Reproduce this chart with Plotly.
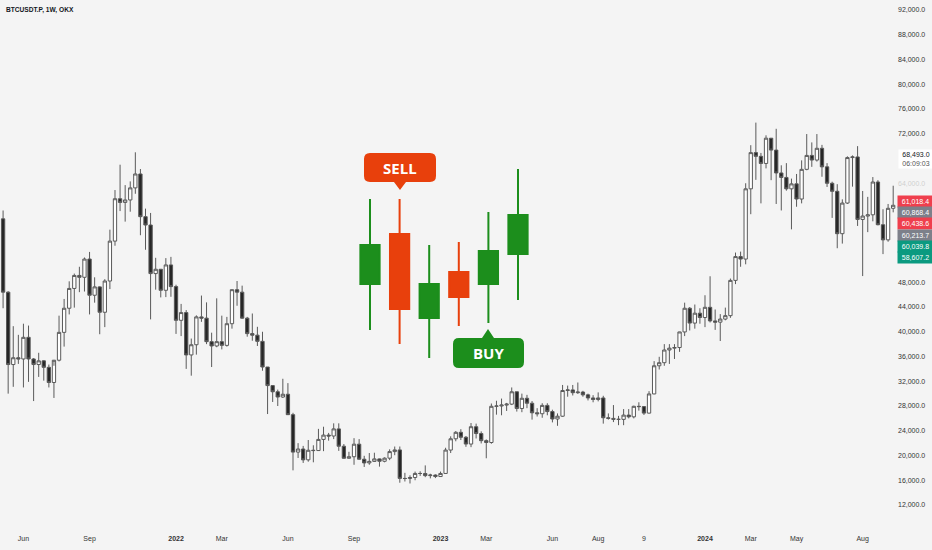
import pandas as pd
import plotly.graph_objects as go

# ---------------- data (weekly BTCUSDT.P) ----------------
first_week = "2021-05-10"
opens = [58250, 46400, 34700, 35800, 35600, 39100, 35600, 34700, 35300, 34250,
         31800, 35400, 39900, 43800, 47000, 49100, 48800, 51750, 45900, 47250,
         43150, 48200, 54650, 61500, 60900, 61300, 63250, 65500, 58600, 57250,
         49400, 50100, 46700, 50800,
         47300, 41850, 43100, 36250, 37900, 42400, 42200, 38400, 37700, 38400,
         37800, 41300, 46800, 46400, 42200, 39700, 39450, 38450, 34300, 31300,
         30300, 29450, 29900, 26600, 20550, 21050, 19300, 20850, 20800, 22600,
         23300, 23150, 24300, 21500, 19550, 19800, 21830, 19400, 18800, 19050,
         19450, 19070, 19570, 20630, 20900, 16300, 16280, 16450, 17100, 17090,
         16750, 16840,
         16600, 17100, 20880, 22700, 23750, 22950, 21850, 24650, 23550, 22400,
         22100, 27950, 28000, 28150, 28300, 30300, 27600, 29250, 28450, 26900,
         26750, 28100, 27100, 25900, 26350, 30500, 30600, 30150, 30250, 29800,
         29300, 29050, 29300, 26100, 26000, 25850, 25840, 26530, 26250, 27950,
         27900, 26850, 29950, 34500, 35000, 37050, 37350, 37450, 39970, 43800,
         41400, 43000,
         42300, 43950, 41750, 41550, 42050, 42600, 48300, 52150, 51750, 63100,
         68950, 68350, 67200, 71280, 69360, 65660, 64940, 63100, 63900, 61450,
         66250, 68500, 67750, 69650, 66650, 64000, 62700, 55850, 60800, 68150,
         68250, 58150, 58700, 58900, 64200, 57300, 54850, 59950]
highs = [59600, 46550, 40900, 39500, 41300, 41000, 35750, 36600, 35400, 34700,
         34500, 42600, 45300, 48150, 49400, 50500, 52000, 52900, 48800, 47350,
         48500, 56500, 62900, 67000, 63700, 64300, 69000, 66300, 59900, 59200,
         51950, 50100, 51900, 52100,
         47600, 44500, 43500, 38900, 42650, 45850, 44750, 39850, 45400, 42600,
         42400, 46800, 48200, 47450, 42400, 42950, 40800, 40000, 34300, 31300,
         30650, 32400, 31700, 26900, 22000, 21550, 22500, 21650, 24300, 24650,
         23650, 25200, 25200, 21850, 20600, 22800, 22650, 19950, 20400, 20450,
         19500, 19700, 21000, 21450, 21450, 17200, 16800, 17400, 17450, 18400,
         17050, 16950,
         17400, 21250, 23100, 23950, 24250, 23150, 25250, 25150, 23900, 22600,
         28400, 28850, 29200, 28500, 31000, 30300, 30000, 29800, 28800, 27650,
         28450, 28450, 27400, 26800, 31400, 31300, 31400, 31800, 30450, 30000,
         29750, 30200, 29650, 26800, 28150, 26400, 27500, 27500, 28050, 28600,
         28000, 30400, 35250, 35950, 38000, 38000, 38000, 40000, 44700, 44000,
         44400, 43800,
         45900, 48970, 43600, 42850, 43900, 48600, 52800, 52950, 64000, 70150,
         73800, 68900, 71750, 71300, 72800, 66900, 67250, 64750, 65500, 67700,
         71950, 70600, 71950, 70200, 67250, 64250, 63850, 61400, 68350, 68500,
         70000, 62750, 61800, 65000, 64500, 59800, 60650, 63600]
lows = [43800, 30000, 31100, 34800, 31000, 31900, 28800, 32700, 32100, 31000,
        29300, 35200, 37600, 42800, 43900, 46400, 46500, 42800, 44700, 39600,
        40750, 46900, 53900, 59500, 57800, 59400, 62300, 55600, 53250, 42000,
        46800, 45550, 45600, 45650,
        39650, 39300, 34000, 32900, 36300, 41600, 38000, 34300, 37500, 37150,
        37600, 40500, 44200, 42100, 39200, 38550, 37700, 33700, 26700, 28650,
        28000, 29300, 26550, 17600, 19600, 18800, 19000, 18900, 20750, 20700,
        22400, 22650, 20750, 19500, 19500, 18500, 19300, 18150, 18500, 18950,
        18200, 18900, 19250, 20050, 15600, 15800, 15480, 16000, 16700, 16500,
        16300, 16350,
        16550, 17050, 20400, 22300, 22500, 21400, 21350, 22750, 21950, 19550,
        21900, 26600, 26500, 27200, 28150, 27100, 27000, 27650, 25800, 26300,
        26100, 26500, 25350, 24800, 26250, 29500, 29700, 29950, 29500, 28900,
        28600, 28750, 25150, 25800, 25400, 24900, 24900, 26000, 26000, 27250,
        26550, 26800, 29900, 33900, 34500, 34800, 35600, 36750, 39300, 40200,
        40500, 41300,
        40750, 41500, 40300, 38500, 41850, 42250, 47700, 50500, 50900, 59000,
        64550, 60750, 66400, 64500, 60650, 59600, 62800, 56550, 60200, 60750,
        66100, 66650, 67500, 65050, 63400, 58400, 53500, 54250, 60650, 63450,
        57100, 49000, 56100, 57850, 57200, 52550, 54550, 59300]
closes = [46400, 34700, 35800, 35600, 39100, 35600, 34700, 35300, 34250, 31800,
          35400, 39900, 43800, 47000, 49100, 48800, 51750, 45900, 47250, 43150,
          48200, 54650, 61500, 60900, 61300, 63250, 65500, 58600, 57250, 49400,
          50100, 46700, 50800, 47300,
          41850, 43100, 36250, 37900, 42400, 42200, 38400, 37700, 38400, 37800,
          41300, 46800, 46400, 42200, 39700, 39450, 38450, 34300, 31300, 30300,
          29450, 29900, 26600, 20550, 21050, 19300, 20850, 20800, 22600, 23300,
          23150, 24300, 21500, 19550, 19800, 21830, 19400, 18800, 19050, 19450,
          19070, 19570, 20630, 20900, 16300, 16280, 16450, 17100, 17090, 16750,
          16840, 16600,
          17100, 20880, 22700, 23750, 22950, 21850, 24650, 23550, 22400, 22100,
          27950, 28000, 28150, 28300, 30300, 27600, 29250, 28450, 26900, 26750,
          28100, 27100, 25900, 26350, 30500, 30600, 30150, 30250, 29800, 29300,
          29050, 29300, 26100, 26000, 25850, 25840, 26530, 26250, 27950, 27900,
          26850, 29950, 34500, 35000, 37050, 37350, 37450, 39970, 43800, 41400,
          43000, 42300,
          43950, 41750, 41550, 42050, 42600, 48300, 52150, 51750, 63100, 68950,
          68350, 67200, 71280, 69360, 65660, 64940, 63100, 63900, 61450, 66250,
          68500, 67750, 69650, 66650, 64000, 62700, 55850, 60800, 68150, 68250,
          58150, 58700, 58900, 64200, 57300, 54850, 59950, 60440]

# price scale ticks (labels hidden behind the price tags are left out)
y_ticks = [12000, 16000, 20000, 24000, 28000, 32000, 36000, 40000, 44000, 48000,
           64000, 72000, 76000, 80000, 84000, 88000, 92000]
y_tick_labels = [f"{v:,.1f}" for v in y_ticks]

# time scale ticks
x_tick_dates = ["2021-06-07", "2021-09-06", "2022-01-03", "2022-03-07", "2022-06-06",
                "2022-09-05", "2023-01-02", "2023-03-06", "2023-06-05", "2023-08-07",
                "2023-10-09", "2024-01-01", "2024-03-04", "2024-05-06", "2024-08-05"]
x_tick_labels = ["Jun", "Sep", "<b>2022</b>", "Mar", "Jun", "Sep", "<b>2023</b>", "Mar",
                 "Jun", "Aug", "9", "<b>2024</b>", "Mar", "May", "Aug"]

# right-hand price labels
side_values = ["61,018.4", "60,868.4", "60,438.6", "60,213.7", "60,039.8", "58,607.2"]
side_colors = ["#ef3f4d", "#7d808a", "#ef3f4d", "#7d808a", "#0b9a80", "#0b9a80"]
last_price = "68,493.0"
countdown = "06:09:03"

# illustrative SELL / BUY candles (relative units)
sig_x = [1, 2, 3, 4, 5, 6]
sig_open = [249, 299, 215, 261, 249, 279]
sig_high = [334, 334, 288, 291, 321, 364]
sig_low = [203, 189, 175, 207, 210, 233]
sig_close = [288, 224, 249, 236, 282, 318]

# ---------------- layout geometry ----------------
W, H = 932, 550
ML, MR, MT, MB = 0, 35, 0, 17
PW, PH = W - ML - MR, H - MT - MB


def pxp(x):
    return (x - ML) / PW


def pyp(y):
    return (H - MB - y) / PH


PX_PER_DAY = 0.7266
anchor_day = pd.Timestamp("2022-01-03")
x0 = (anchor_day - pd.Timedelta(days=176 / PX_PER_DAY)).floor("h")
x1 = (x0 + pd.Timedelta(days=PW / PX_PER_DAY)).floor("h")


def price_at(ypx):
    return 92000 + (10 - ypx) * (80000 / 495)


dates = pd.date_range(first_week, periods=len(opens), freq="7D")

BG = "#f4f4f4"
GREEN = "#1c8e1c"
RED = "#e8400c"
FONT = "Liberation Sans"

fig = go.Figure()
fig.add_trace(go.Candlestick(
    x=dates, open=opens, high=highs, low=lows, close=closes,
    increasing=dict(fillcolor="#ffffff", line=dict(color="#5a5a5a", width=1)),
    decreasing=dict(fillcolor="#262626", line=dict(color="#5a5a5a", width=1)),
    whiskerwidth=0, showlegend=False))

fig.add_trace(go.Candlestick(
    x=sig_x, open=sig_open, high=sig_high, low=sig_low, close=sig_close,
    xaxis="x2", yaxis="y2",
    increasing=dict(fillcolor=GREEN, line=dict(color=GREEN, width=2)),
    decreasing=dict(fillcolor=RED, line=dict(color=RED, width=2)),
    whiskerwidth=0, showlegend=False))


# ---------- bubbles ----------
def bubble_path(xa, ya, xb, yb, r, tip_x, tip_len, tip_half, down):
    def P(x, y):
        return f"{pxp(x):.5f},{pyp(y):.5f}"
    s = f"M {P(xa + r, ya)} "
    if not down:
        s += f"L {P(tip_x - tip_half, ya)} L {P(tip_x, ya - tip_len)} L {P(tip_x + tip_half, ya)} "
    s += f"L {P(xb - r, ya)} Q {P(xb, ya)} {P(xb, ya + r)} "
    s += f"L {P(xb, yb - r)} Q {P(xb, yb)} {P(xb - r, yb)} "
    if down:
        s += f"L {P(tip_x + tip_half, yb)} L {P(tip_x, yb + tip_len)} L {P(tip_x - tip_half, yb)} "
    s += f"L {P(xa + r, yb)} Q {P(xa, yb)} {P(xa, yb - r)} "
    s += f"L {P(xa, ya + r)} Q {P(xa, ya)} {P(xa + r, ya)} Z"
    return s


shapes = [
    dict(type="path", xref="paper", yref="paper",
         path=bubble_path(364, 153, 436, 182, 6, 400, 8, 6, True),
         fillcolor=RED, line=dict(width=0)),
    dict(type="path", xref="paper", yref="paper",
         path=bubble_path(453, 338, 524, 368, 6, 488, 9, 6, False),
         fillcolor=GREEN, line=dict(width=0)),
    # veil over the faded 64,000 tick
    dict(type="rect", xref="paper", yref="paper", x0=pxp(897), x1=pxp(932),
         y0=pyp(188), y1=pyp(178), fillcolor="rgba(244,244,244,0.8)",
         line=dict(width=0)),
]

annotations = [
    dict(text="<b>BTCUSDT.P, 1W, OKX</b>", xref="paper", yref="paper",
         x=pxp(4), y=pyp(10), xanchor="left", yanchor="middle", showarrow=False,
         font=dict(family=FONT, size=6.6, color="#131722")),
    dict(text="<b>SELL</b>", xref="paper", yref="paper", x=pxp(400), y=pyp(167.5),
         xanchor="center", yanchor="middle", showarrow=False,
         font=dict(family="Open Sans", size=15, color="#ffffff")),
    dict(text="<b>BUY</b>", xref="paper", yref="paper", x=pxp(488.5), y=pyp(353),
         xanchor="center", yanchor="middle", showarrow=False,
         font=dict(family="Open Sans", size=15, color="#ffffff")),
    dict(text=f"{last_price}<br><span style='color:#555555'>{countdown}</span>",
         xref="paper", yref="paper", x=pxp(898), y=pyp(159), xanchor="left",
         yanchor="middle", showarrow=False, width=32, bgcolor="#ffffff", borderpad=1,
         align="center", font=dict(family=FONT, size=7, color="#131722")),
]
for i, (txt, col) in enumerate(zip(side_values, side_colors)):
    annotations.append(dict(
        text=txt, xref="paper", yref="paper", x=pxp(897), y=pyp(201.5 + i * 11.2),
        xanchor="left", yanchor="middle", showarrow=False, width=33, height=9.2,
        bgcolor=col, borderpad=1, align="center",
        font=dict(family=FONT, size=7, color="#ffffff")))

fig.update_layout(
    width=W, height=H,
    margin=dict(l=ML, r=MR, t=MT, b=MB),
    paper_bgcolor=BG, plot_bgcolor=BG,
    showlegend=False, hovermode=False,
    boxgap=0.35, boxgroupgap=0,
    font=dict(family=FONT, size=7, color="#333333"),
    xaxis=dict(type="date", range=[x0, x1], rangeslider=dict(visible=False),
               showgrid=False, zeroline=False, showline=False, ticks="",
               tickmode="array", tickvals=x_tick_dates, ticktext=x_tick_labels,
               tickfont=dict(family=FONT, size=7, color="#333333"), fixedrange=True),
    yaxis=dict(side="right", range=[price_at(PH), price_at(0)], showgrid=False,
               zeroline=False, showline=False, ticks="", tickmode="array",
               tickvals=y_ticks, ticktext=y_tick_labels,
               tickfont=dict(family=FONT, size=7, color="#333333"), fixedrange=True),
    xaxis2=dict(overlaying="x", anchor="y2", showticklabels=False, showgrid=False,
                zeroline=False, showline=False, ticks="",
                rangeslider=dict(visible=False),
                range=[1 - 370 / 29.6, 1 + (PW - 370) / 29.6], fixedrange=True),
    yaxis2=dict(overlaying="y", anchor="x2", showticklabels=False, showgrid=False,
                zeroline=False, showline=False, ticks="",
                range=[0, PH], fixedrange=True),
    shapes=shapes, annotations=annotations,
)

fig.write_html("out.html", config={"displayModeBar": False},
               post_script="document.body.style.margin='0';document.body.style.overflow='hidden';")
